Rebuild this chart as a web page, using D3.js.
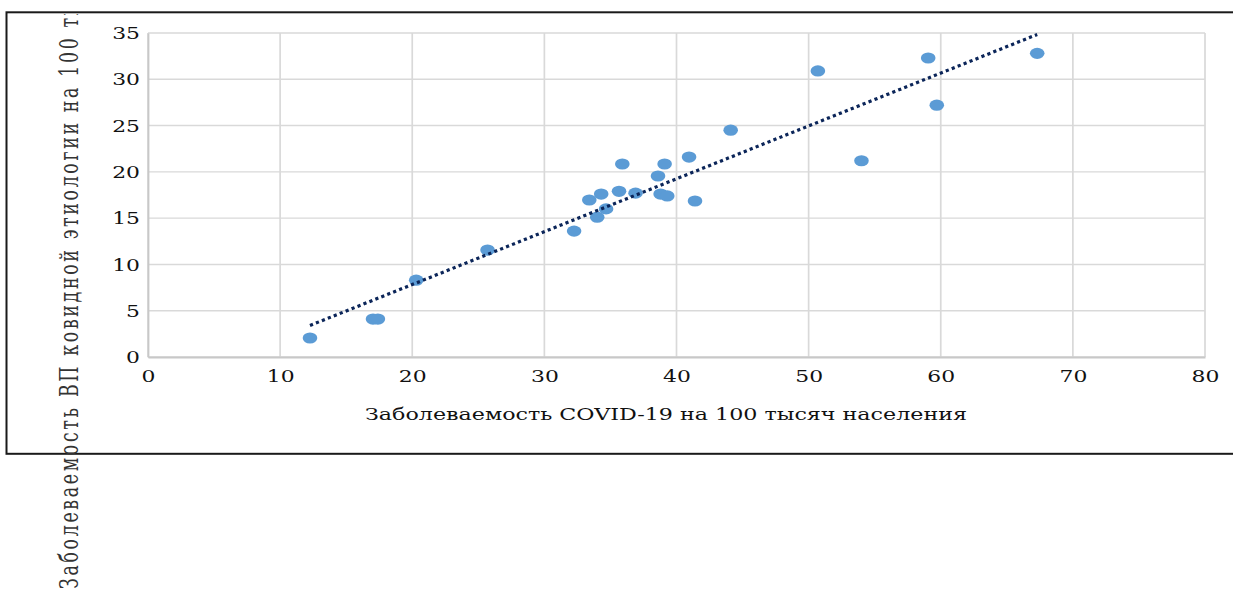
<!DOCTYPE html>
<html>
<head>
<meta charset="utf-8">
<script src="https://cdn.jsdelivr.net/npm/d3@7/dist/d3.min.js"></script>
<style>
  body { margin: 0; background: #fff; }
  svg { display: block; }
</style>
</head>
<body>
<svg id="chart"></svg>
<script>
// заболеваемость COVID-19 (x) и ВП ковидной этиологии (y), на 100 тыс.
const covidRate = [12.26, 17.03, 17.4, 20.3, 25.7, 32.25, 33.4, 34.0, 34.3, 34.67, 35.65, 35.9, 36.9,
  38.6, 38.8, 39.3, 39.1, 40.95, 41.4, 44.1, 50.7, 54.0, 59.05, 59.7, 67.3];
const pneumoniaRate = [2.05, 4.1, 4.1, 8.3, 11.55, 13.6, 16.96, 15.1, 17.6, 16.0, 17.9, 20.85, 17.7,
  19.55, 17.6, 17.4, 20.85, 21.6, 16.85, 24.5, 30.9, 21.2, 32.3, 27.2, 32.8];

const xTicks = [0, 10, 20, 30, 40, 50, 60, 70, 80];
const yTicks = [0, 5, 10, 15, 20, 25, 30, 35];

const xTitle = "Заболеваемость COVID-19 на 100 тысяч населения";
const yTitle = "Заболеваемость ВП ковидной этиологии на 100 тысяч населения";

const w = 1233, h = 591;
const stretch = 1.25; // картинка растянута по горизонтали

const svg = d3.select("#chart")
  .attr("width", w)
  .attr("height", h);

const xScale = d3.scaleLinear()
  .domain([0, 80])
  .range([148, 1205]);

const yScale = d3.scaleLinear()
  .domain([0, 35])
  .range([357, 33]);

// рамка
svg.append("rect")
  .attr("x", 6.5)
  .attr("y", 12.3)
  .attr("width", 1300)
  .attr("height", 441.5)
  .attr("fill", "none")
  .attr("stroke", "#1a1a1a")
  .attr("stroke-width", 2);

// сетка
svg.append("g")
  .selectAll("line")
  .data(yTicks)
  .enter()
  .append("line")
  .attr("x1", xScale(0))
  .attr("x2", xScale(80))
  .attr("y1", d => yScale(d))
  .attr("y2", d => yScale(d))
  .attr("stroke", "#d9d9d9")
  .attr("stroke-width", 1.4);

svg.append("g")
  .selectAll("line")
  .data(xTicks)
  .enter()
  .append("line")
  .attr("x1", d => xScale(d))
  .attr("x2", d => xScale(d))
  .attr("y1", yScale(0))
  .attr("y2", yScale(35))
  .attr("stroke", "#d9d9d9")
  .attr("stroke-width", 1.7);

// оси
const xAxis = d3.axisBottom(xScale)
  .tickValues(xTicks)
  .tickSize(0)
  .tickPadding(13);

const gx = svg.append("g")
  .attr("transform", `translate(0,${yScale(0)})`)
  .call(xAxis);

const yAxis = d3.axisLeft(yScale)
  .tickValues(yTicks)
  .tickSize(0)
  .tickPadding(7);

const gy = svg.append("g")
  .attr("transform", `translate(${xScale(0)},0)`)
  .call(yAxis);

[gx, gy].forEach(g => {
  g.select(".domain")
    .attr("stroke", "#c8c8c8")
    .attr("stroke-width", 1.8);
  g.selectAll("text")
    .attr("font-family", "DejaVu Serif")
    .attr("font-size", 17.5)
    .attr("fill", "#111")
    .attr("transform", `scale(${stretch},1)`);
});
gy.selectAll("text").attr("x", -8 / stretch);

// линия тренда (МНК)
const mx = d3.mean(covidRate), my = d3.mean(pneumoniaRate);
const slope = d3.sum(covidRate, (x, i) => (x - mx) * (pneumoniaRate[i] - my)) /
  d3.sum(covidRate, x => (x - mx) * (x - mx));
const intercept = my - slope * mx;
const trendX = d3.extent(covidRate);

// точки
svg.append("g")
  .selectAll("ellipse")
  .data(covidRate)
  .enter()
  .append("ellipse")
  .attr("cx", d => xScale(d))
  .attr("cy", (d, i) => yScale(pneumoniaRate[i]))
  .attr("rx", 7.3)
  .attr("ry", 5.6)
  .attr("fill", "#5b9bd5");

svg.append("path")
  .datum(trendX)
  .attr("d", d3.line()
    .x(d => xScale(d))
    .y(d => yScale(intercept + slope * d)))
  .attr("fill", "none")
  .attr("stroke", "#0b2559")
  .attr("stroke-width", 3.2)
  .attr("stroke-dasharray", "3.2,3.2");

// подписи осей
svg.append("text")
  .attr("x", 666)
  .attr("y", 420)
  .attr("text-anchor", "middle")
  .attr("font-family", "DejaVu Serif")
  .attr("font-size", 17.5)
  .attr("fill", "#111")
  .attr("textLength", 602)
  .attr("lengthAdjust", "spacingAndGlyphs")
  .text(xTitle);

// подпись оси Y обрезана рамкой сверху
svg.append("clipPath")
  .attr("id", "yclip")
  .append("rect")
  .attr("x", 0)
  .attr("y", 14)
  .attr("width", 140)
  .attr("height", h);

const yt = svg.append("g")
  .attr("clip-path", "url(#yclip)")
  .append("text")
  .attr("font-family", "DejaVu Serif")
  .attr("font-size", 26)
  .attr("letter-spacing", 4)
  .attr("fill", "#333")
  .text(yTitle);
const yLen = yt.node().getComputedTextLength();
yt.attr("transform", `translate(78,589) rotate(-90) scale(${760 / yLen},1)`);
</script>
</body>
</html>
